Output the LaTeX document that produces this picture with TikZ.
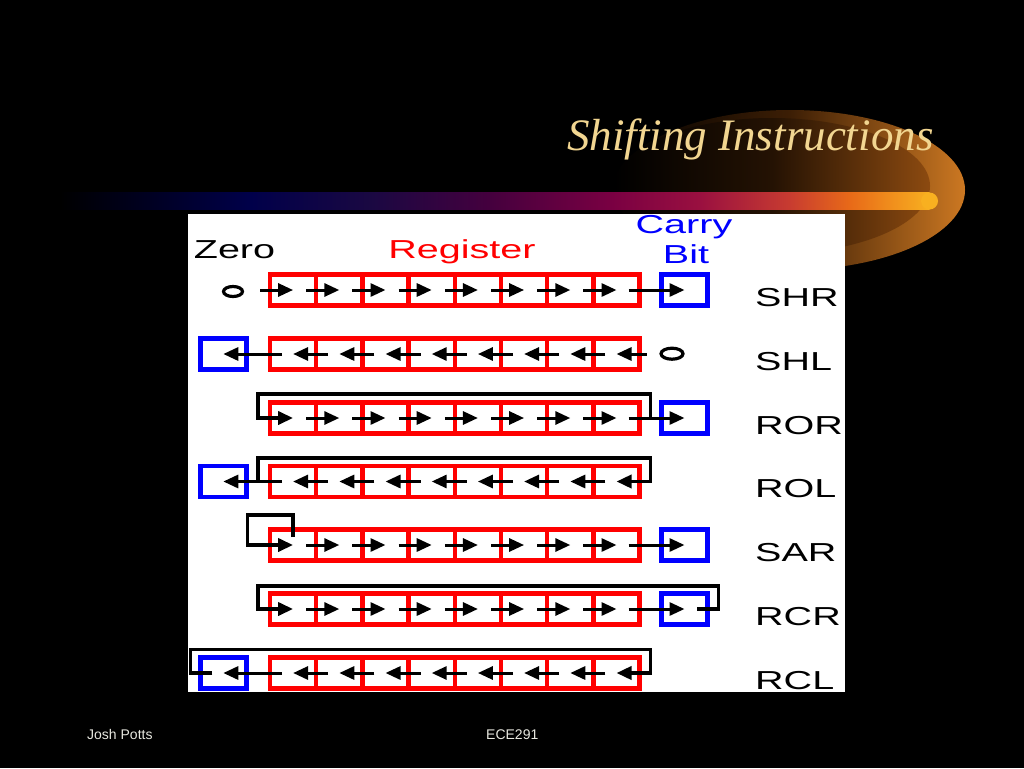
\documentclass[tikz,border=0pt]{standalone}
\usepackage{fontspec}
\setmainfont{Liberation Serif}
\setsansfont{Liberation Sans}
\usetikzlibrary{arrows.meta,shapes.geometric}
\definecolor{titlec}{RGB}{242,214,145}
\definecolor{footc}{RGB}{232,232,224}
\definecolor{bA}{RGB}{0,0,34}
\definecolor{bB}{RGB}{0,0,74}
\definecolor{bC}{RGB}{26,8,66}
\definecolor{bD}{RGB}{69,0,62}
\definecolor{bE}{RGB}{122,0,66}
\definecolor{bF}{RGB}{154,16,64}
\definecolor{bG}{RGB}{200,60,48}
\definecolor{bH}{RGB}{232,106,24}
\definecolor{bI}{RGB}{248,176,32}
\definecolor{gA}{RGB}{60,30,5}
\definecolor{gB}{RGB}{204,120,34}
\definecolor{gC}{RGB}{36,18,3}
\definecolor{gD}{RGB}{140,74,16}
\begin{document}
\begin{tikzpicture}[x=1pt,y=-1pt,
  regcell/.style={draw=red, line width=4.5pt, minimum width=46.2pt, minimum height=30.6pt, outer sep=0pt, inner sep=0pt},
  carrybox/.style={draw=blue, line width=4.5pt, minimum width=46pt, minimum height=30.6pt, outer sep=0pt, inner sep=0pt},
  tipstyle/.style={-{Triangle[length=15pt,width=13pt]}},
  arr/.style={line width=3pt, tipstyle},
  loopln/.style={line width=3.5pt, line join=miter, tipstyle},
  zerocirc/.style={draw=black, ellipse, line width=3.2pt, inner sep=0pt, outer sep=0pt},
  rowlbl/.style={font=\sffamily\fontsize{26}{28}\selectfont, anchor=base west, inner sep=0pt},
  headlbl/.style={font=\sffamily\fontsize{26}{28}\selectfont, anchor=base, inner sep=0pt}
]
\useasboundingbox (0,0) rectangle (1024,768);
\fill[black] (0,0) rectangle (1024,768);
% glow ellipse behind title
\shade[left color=black, right color=gB, middle color=gA] (790,190) ellipse[x radius=175, y radius=80];
\shade[left color=black, right color=gD, middle color=gC] (772,186) ellipse[x radius=158, y radius=68];
% gradient bar
\shade[left color=black, right color=bA] (60,192.5) rectangle (150.5,209.5);
\shade[left color=bA, right color=bB] (150,192.5) rectangle (250.5,209.5);
\shade[left color=bB, right color=bC] (250,192.5) rectangle (370.5,209.5);
\shade[left color=bC, right color=bD] (370,192.5) rectangle (490.5,209.5);
\shade[left color=bD, right color=bE] (490,192.5) rectangle (612.5,209.5);
\shade[left color=bE, right color=bF] (612,192.5) rectangle (700.5,209.5);
\shade[left color=bF, right color=bG] (700,192.5) rectangle (790.5,209.5);
\shade[left color=bG, right color=bH] (790,192.5) rectangle (850.5,209.5);
\shade[left color=bH, right color=bI] (850,192.5) rectangle (929.5,209.5);
\fill[bI] (929.5,201) circle[radius=8.5];
% title
\node[font=\fontsize{45}{50}\selectfont\itshape, text=titlec, anchor=base west, inner sep=0pt] (title) at (567,150) {Shifting Instructions};
% white panel
\fill[white] (188,214) rectangle (845,692);
% headers
\node[headlbl, text=black] (hzero) at (234.5,258) {\scalebox{1.52}[1]{Zero}};
\node[headlbl, text=red] (hreg) at (462,258) {\scalebox{1.52}[1]{Register}};
\node[headlbl, text=blue] (hcarry) at (684,233) {\scalebox{1.52}[1]{Carry}};
\node[headlbl, text=blue] (hbit) at (686,263.5) {\scalebox{1.52}[1]{Bit}};
% register cells
\foreach \r/\y in {1/290,2/354,3/418,4/481.5,5/545,6/609,7/673}{
  \foreach \k in {0,...,7}{
    \node[regcell] (r\r-c\k) at ({293.1+46.2*\k},\y) {};
  }
}
% carry boxes
\node[carrybox] (cr1) at (684.5,290) {};
\node[carrybox] (cl2) at (223.3,354) {};
\node[carrybox] (cr3) at (684.5,418) {};
\node[carrybox] (cl4) at (223.3,481.5) {};
\node[carrybox] (cr5) at (684.5,545) {};
\node[carrybox] (cr6) at (684.5,609) {};
\node[carrybox] (cl7) at (223.3,673) {};
% zero circles
\node[zerocirc, minimum width=19pt, minimum height=10pt] (z1) at (233,291.5) {};
\node[zerocirc, minimum width=22pt, minimum height=11pt] (z2) at (672,353.7) {};
% ---- SHR ----
\foreach \k in {0,...,7}{ \draw[arr] ([xshift=-10pt]r1-c\k.west) -- (r1-c\k.center); }
\draw[arr] ([xshift=-11pt]r1-c7.east) -- (cr1.center);
% ---- SHL ----
\foreach \k in {0,...,6}{ \draw[arr] ([xshift=12pt]r2-c\k.east) -- (r2-c\k.center); }
\draw[arr] ([xshift=7pt]r2-c7.east) -- (r2-c7.center);
\draw[arr] ([xshift=12pt]r2-c0.west) -- (cl2.center);
% ---- ROR ----
\foreach \k in {1,...,7}{ \draw[arr] ([xshift=-10pt]r3-c\k.west) -- (r3-c\k.center); }
\draw[arr] ([xshift=-11pt]r3-c7.east) -- (cr3.center);
\draw[loopln] ([xshift=11pt]r3-c7.east) -- ++(0,-24) -| ([xshift=-12pt]r3-c0.west) -- (r3-c0.center);
% ---- ROL ----
\foreach \k in {0,...,6}{ \draw[arr] ([xshift=12pt]r4-c\k.east) -- (r4-c\k.center); }
\draw[arr] ([xshift=12pt]r4-c0.west) -- (cl4.center);
\draw[loopln] ([xshift=-12pt]r4-c0.west) -- ++(0,-23.5) -| ([xshift=11pt]r4-c7.east) -- (r4-c7.center);
% ---- SAR ----
\foreach \k in {1,...,7}{ \draw[arr] ([xshift=-10pt]r5-c\k.west) -- (r5-c\k.center); }
\draw[arr] ([xshift=-11pt]r5-c7.east) -- (cr5.center);
\draw[loopln] ([yshift=8pt]r5-c0.center) -- ++(0,-22) -| ([xshift=-22.5pt]r5-c0.west) -- (r5-c0.center);
% ---- RCR ----
\foreach \k in {1,...,7}{ \draw[arr] ([xshift=-10pt]r6-c\k.west) -- (r6-c\k.center); }
\draw[arr] ([xshift=-11pt]r6-c7.east) -- (cr6.center);
\draw[loopln] ([xshift=12.5pt]cr6.center) -- ([xshift=11.2pt]cr6.east) -- ++(0,-23) -| ([xshift=-12pt]r6-c0.west) -- (r6-c0.center);
% ---- RCL ----
\foreach \k in {0,...,6}{ \draw[arr] ([xshift=12pt]r7-c\k.east) -- (r7-c\k.center); }
\draw[arr] ([xshift=12pt]r7-c0.west) -- (cl7.center);
\draw[loopln] ([xshift=-11pt]cl7.center) -- ([xshift=-10pt]cl7.west) -- ++(0,-23.5) -| ([xshift=11pt]r7-c7.east) -- (r7-c7.center);
% row labels
\node[rowlbl] (lshr) at (755,306) {\scalebox{1.52}[1]{SHR}};
\node[rowlbl] (lshl) at (755,370) {\scalebox{1.52}[1]{SHL}};
\node[rowlbl] (lror) at (755,434) {\scalebox{1.52}[1]{ROR}};
\node[rowlbl] (lrol) at (755,497.5) {\scalebox{1.52}[1]{ROL}};
\node[rowlbl] (lsar) at (755,561) {\scalebox{1.52}[1]{SAR}};
\node[rowlbl] (lrcr) at (755,625) {\scalebox{1.52}[1]{RCR}};
\node[rowlbl] (lrcl) at (755,689) {\scalebox{1.52}[1]{RCL}};
% footer
\node[font=\sffamily\fontsize{14}{16}\selectfont, text=footc, anchor=base west, inner sep=0pt] (fleft) at (87,739.5) {Josh Potts};
\node[font=\sffamily\fontsize{14}{16}\selectfont, text=footc, anchor=base west, inner sep=0pt] (fmid) at (486,739.5) {ECE291};
\end{tikzpicture}
\end{document}
